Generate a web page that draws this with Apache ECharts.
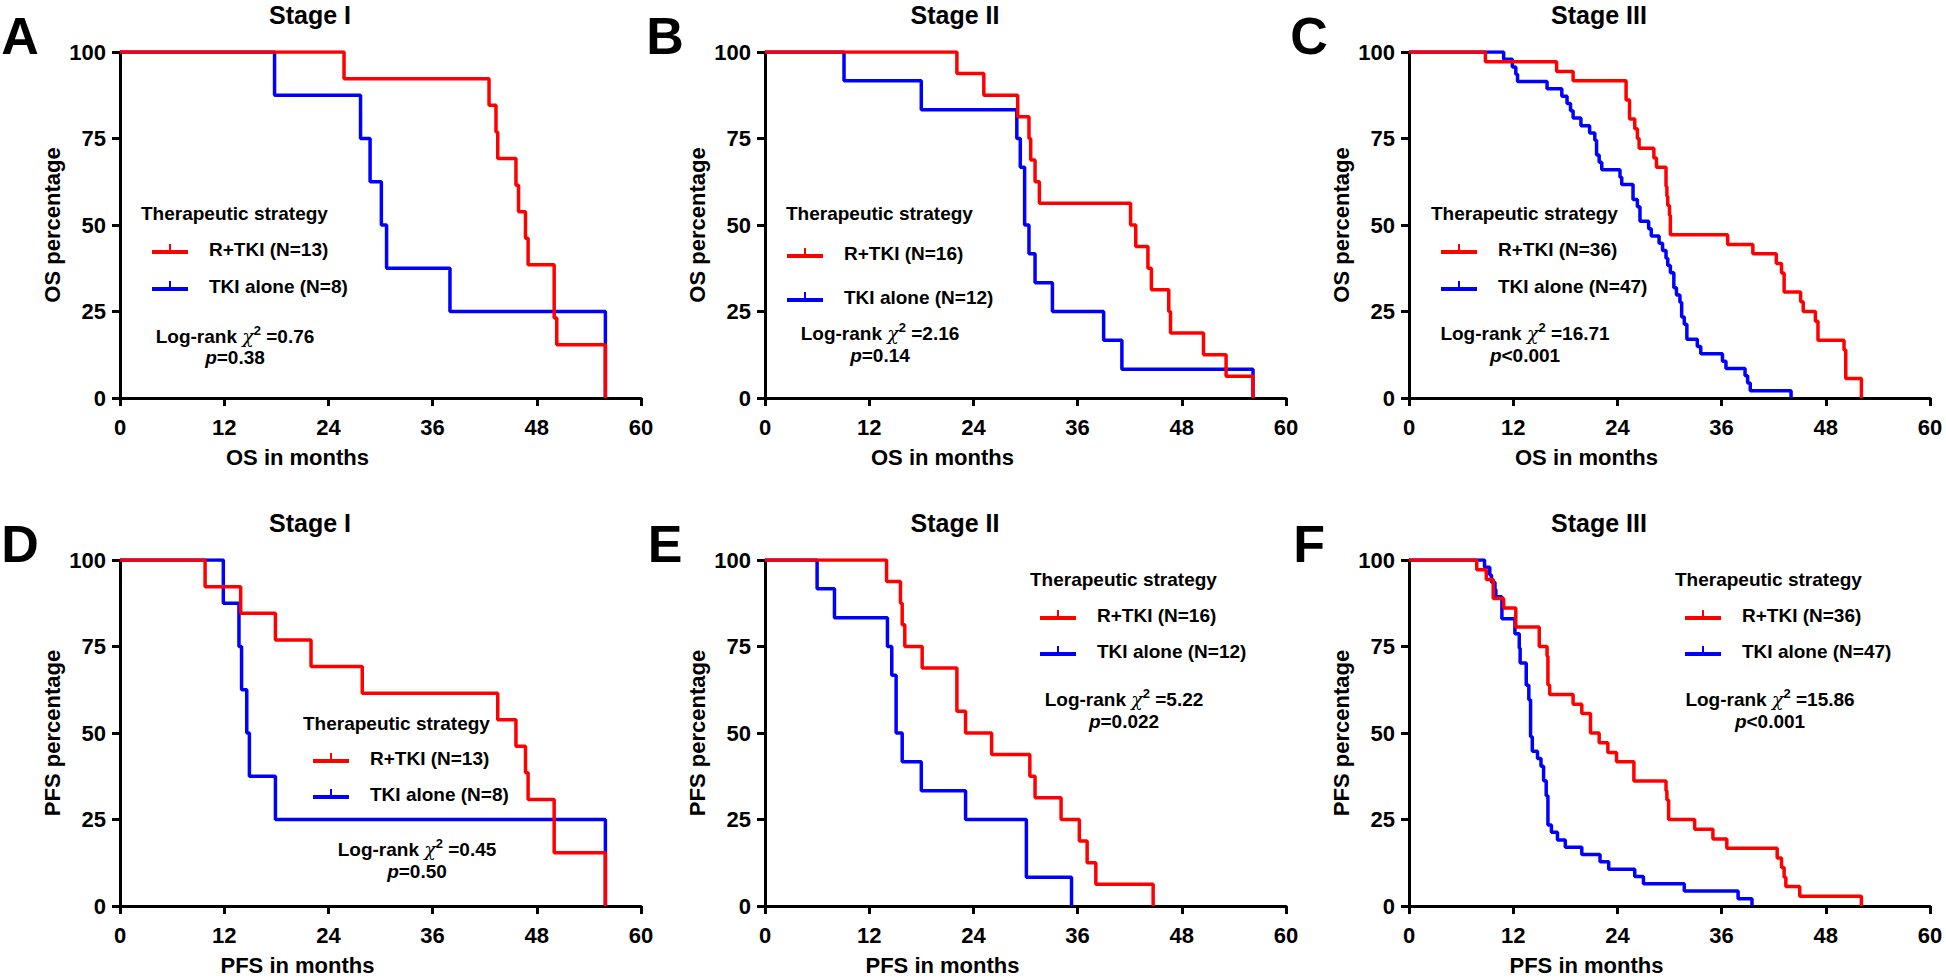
<!DOCTYPE html>
<html>
<head>
<meta charset="utf-8">
<script src="https://cdn.jsdelivr.net/npm/echarts@6/dist/echarts.min.js"></script>
<style>
  html, body { margin: 0; padding: 0; background: #fff; }
  #main { width: 1946px; height: 980px; }
</style>
</head>
<body>
<div id="main"></div>
<script>
// ---- data ----
const panelLetters = ['A', 'B', 'C', 'D', 'E', 'F'];
const stageTitles = ['Stage I', 'Stage II', 'Stage III', 'Stage I', 'Stage II', 'Stage III'];
const xTitles = ['OS in months', 'OS in months', 'OS in months', 'PFS in months', 'PFS in months', 'PFS in months'];
const yTitles = ['OS percentage', 'OS percentage', 'OS percentage', 'PFS percentage', 'PFS percentage', 'PFS percentage'];
const redNames = ['R+TKI (N=13)', 'R+TKI (N=16)', 'R+TKI (N=36)', 'R+TKI (N=13)', 'R+TKI (N=16)', 'R+TKI (N=36)'];
const blueNames = ['TKI alone (N=8)', 'TKI alone (N=12)', 'TKI alone (N=47)', 'TKI alone (N=8)', 'TKI alone (N=12)', 'TKI alone (N=47)'];
const chiValues = ['0.76', '2.16', '16.71', '0.45', '5.22', '15.86'];
const pValues = ['=0.38', '=0.14', '<0.001', '=0.50', '=0.022', '<0.001'];
const monthTicks = [0, 12, 24, 36, 48, 60];
const percentTicks = [0, 25, 50, 75, 100];

// Kaplan-Meier steps: [month, percent surviving after the drop]
const osRedI = [[0,100],[25.8,92.3],[42.5,84.6],[43.3,76.9],[43.5,69.2],[45.6,61.5],[45.9,53.8],[46.7,46.2],[47.0,38.5],[50.0,23.1],[50.3,15.4],[55.9,0]];
const osBlueI = [[0,100],[17.8,87.5],[27.7,75],[28.8,62.5],[30.1,50],[30.7,37.5],[38.0,25],[55.9,0]];

const osRedII = [[0,100],[22.1,93.8],[25.2,87.5],[29.1,81.3],[30.4,75],[30.6,68.8],[31.1,62.5],[31.6,56.3],[42.1,50],[42.7,43.8],[44.1,37.5],[44.5,31.3],[46.5,25],[46.7,18.8],[50.5,12.5],[53.1,6.3],[56.2,0]];
const osBlueII = [[0,100],[9.1,91.7],[18.0,83.3],[29.0,75],[29.4,66.7],[29.9,50],[30.4,41.7],[31.1,33.3],[33.1,25],[39.0,16.7],[41.1,8.3],[56.2,0]];

const osRedIII = [[0,100],[8.8,97.2],[17.0,94.4],[18.9,91.7],[25.0,86.1],[25.4,80.6],[26.0,77.8],[26.3,75.0],[26.5,72.2],[28.2,69.4],[28.5,66.7],[29.6,61.1],[29.7,58.3],[29.8,55.6],[30.0,52.8],[30.1,47.2],[36.7,44.4],[39.6,41.7],[42.3,38.9],[42.9,36.1],[43.2,30.6],[45.1,27.8],[45.4,25.0],[46.8,22.2],[47.1,16.7],[50.1,13.9],[50.3,5.6],[52.1,0]];
const osBlueIII = [[0,100],[10.9,97.9],[11.9,95.7],[12.3,93.6],[12.5,91.5],[15.9,89.4],[17.6,87.2],[18.2,85.1],[18.6,83.0],[18.9,80.9],[19.8,78.7],[20.8,76.6],[21.4,74.5],[21.6,70.2],[21.9,68.1],[22.2,66.0],[24.3,63.8],[24.5,61.7],[25.8,57.4],[26.3,55.3],[26.6,51.1],[27.6,48.9],[27.9,46.8],[28.8,44.7],[29.2,42.6],[29.6,40.4],[29.8,38.3],[30.1,36.2],[30.5,31.9],[30.8,29.8],[31.2,27.7],[31.4,23.4],[31.7,21.3],[32.0,17.0],[33.2,14.9],[33.6,12.8],[36.1,10.6],[36.5,8.5],[38.7,6.4],[39.0,4.3],[39.3,2.1],[44.0,0]];

const pfsRedI = [[0,100],[9.8,92.3],[13.9,84.6],[17.9,76.9],[22.0,69.2],[27.9,61.5],[43.5,53.8],[45.6,46.2],[46.7,38.5],[47.0,30.8],[50.0,15.4],[55.9,0]];
const pfsBlueI = [[0,100],[11.9,87.5],[13.7,75],[14.0,62.5],[14.6,50],[14.9,37.5],[17.9,25],[55.9,0]];

const pfsRedII = [[0,100],[14.0,93.8],[15.6,87.5],[15.8,81.3],[16.1,75],[18.1,68.8],[22.1,56.3],[23.1,50],[26.1,43.8],[30.5,37.5],[31.1,31.3],[34.1,25],[36.2,18.8],[37.1,12.5],[38.1,6.3],[44.7,0]];
const pfsBlueII = [[0,100],[6.0,91.7],[8.0,83.3],[14.1,75],[14.6,66.7],[15.1,50],[15.8,41.7],[18.0,33.3],[23.1,25],[30.1,8.3],[35.3,0]];

const pfsRedIII = [[0,100],[7.8,97.2],[8.9,94.4],[9.7,88.9],[10.9,86.1],[12.3,80.6],[15.0,75.0],[15.9,72.2],[16.0,63.9],[16.2,61.1],[18.9,58.3],[19.9,55.6],[20.9,50.0],[21.9,47.2],[22.9,44.4],[23.9,41.7],[25.9,36.1],[29.6,33.3],[29.7,30.6],[29.9,25.0],[32.9,22.2],[35.0,19.4],[36.6,16.7],[42.4,13.9],[42.9,11.1],[43.2,8.3],[43.4,5.6],[45.0,2.8],[52.1,0]];
const pfsBlueIII = [[0,100],[8.7,97.9],[9.3,95.7],[9.5,93.6],[9.9,91.5],[10.0,89.4],[10.7,83.0],[12.2,78.7],[12.7,74.5],[12.8,70.2],[13.5,63.8],[13.8,59.6],[14.0,48.9],[14.2,44.7],[14.8,42.6],[15.2,40.4],[15.5,36.2],[15.8,31.9],[16.0,23.4],[16.4,21.3],[17.1,19.1],[18.0,17.0],[19.9,14.9],[22.0,12.8],[23.0,10.6],[26.0,8.5],[27.0,6.4],[31.7,4.3],[37.9,2.1],[39.5,0]];

const redCurves = [osRedI, osRedII, osRedIII, pfsRedI, pfsRedII, pfsRedIII];
const blueCurves = [osBlueI, osBlueII, osBlueIII, pfsBlueI, pfsBlueII, pfsBlueIII];

// ---- layout ----
const FONT = '"Liberation Sans", Arial, Helvetica, sans-serif';
const RED = '#ff0000';
const BLUE = '#0000ff';
const colLeft = [120, 765, 1409];
const rowTop = [52, 560];
const plotW = 521;
const plotH = 346;

// legend / annotation placement per panel (absolute px)
const notes = [
  { hx: 141,  hy: 213, lx: 152,  ly: 249, step: 37, cx: 235,  cy: 336, py: 357 },
  { hx: 786,  hy: 213, lx: 787,  ly: 253, step: 44, cx: 880,  cy: 333, py: 355 },
  { hx: 1431, hy: 213, lx: 1441, ly: 249, step: 37, cx: 1525, cy: 333, py: 355 },
  { hx: 303,  hy: 723, lx: 313,  ly: 758, step: 36, cx: 417,  cy: 849, py: 871 },
  { hx: 1030, hy: 579, lx: 1040, ly: 615, step: 36, cx: 1124, cy: 699, py: 721 },
  { hx: 1675, hy: 579, lx: 1685, ly: 615, step: 36, cx: 1770, cy: 699, py: 721 }
];

const legendIcon = 'path://M0,6h36v4h-36z M17,0h2v6h-2z';

const chart = echarts.init(document.getElementById('main'), null, { renderer: 'svg' });

const grids = [], xAxes = [], yAxes = [], series = [], legends = [], graphics = [];

const boldText = (size) => ({ fontFamily: FONT, fontWeight: 'bold', fontSize: size, color: '#000' });

for (let i = 0; i < 6; i++) {
  const left = colLeft[i % 3];
  const top = rowTop[Math.floor(i / 3)];
  const n = notes[i];

  grids.push({ left: left, top: top, width: plotW, height: plotH, containLabel: false, outerBoundsMode: 'none' });

  xAxes.push({
    gridIndex: i, type: 'value',
    min: monthTicks[0], max: monthTicks[monthTicks.length - 1], interval: monthTicks[1] - monthTicks[0],
    axisLine: { show: true, onZero: false, lineStyle: { color: '#000', width: 3 } },
    axisTick: { show: true, inside: false, length: 8, lineStyle: { color: '#000', width: 3 } },
    axisLabel: Object.assign({ margin: 18 }, boldText(22)),
    splitLine: { show: false },
    name: xTitles[i], nameLocation: 'middle', nameGap: 48,
    nameTextStyle: Object.assign({ padding: [0, 166, 0, 0] }, boldText(22))
  });

  yAxes.push({
    gridIndex: i, type: 'value',
    min: percentTicks[0], max: percentTicks[percentTicks.length - 1], interval: percentTicks[1] - percentTicks[0],
    axisLine: { show: true, onZero: false, lineStyle: { color: '#000', width: 3 } },
    axisTick: { show: true, inside: false, length: 8, lineStyle: { color: '#000', width: 3 } },
    axisLabel: Object.assign({ margin: 14 }, boldText(22)),
    splitLine: { show: false },
    name: yTitles[i], nameLocation: 'middle', nameGap: 57,
    nameTextStyle: boldText(22)
  });

  // blue first so red draws on top, as in the figure
  series.push({
    type: 'line', name: blueNames[i], xAxisIndex: i, yAxisIndex: i,
    data: blueCurves[i], step: 'end', showSymbol: false, symbol: 'none',
    color: BLUE, lineStyle: { color: BLUE, width: 3.5 }, clip: true, animation: false, z: 2
  });
  series.push({
    type: 'line', name: redNames[i], xAxisIndex: i, yAxisIndex: i,
    data: redCurves[i], step: 'end', showSymbol: false, symbol: 'none',
    color: RED, lineStyle: { color: RED, width: 3.5 }, clip: true, animation: false, z: 3
  });

  legends.push({
    left: n.lx, top: n.ly - 10, orient: 'vertical', padding: 0,
    itemGap: n.step - 20, itemWidth: 36, itemHeight: 10,
    icon: legendIcon, selectedMode: false,
    itemStyle: { borderWidth: 0 },
    data: [redNames[i], blueNames[i]],
    textStyle: Object.assign({ lineHeight: 20, padding: [0, 0, 0, 16] }, boldText(19))
  });

  // panel letter
  graphics.push({
    type: 'text', x: left - 100, y: top - 16,
    style: { text: panelLetters[i], fontFamily: FONT, fontWeight: 'bold', fontSize: 52, fill: '#000', align: 'center', verticalAlign: 'middle' }
  });
  // stage title
  graphics.push({
    type: 'text', x: left + 190, y: top - 37,
    style: { text: stageTitles[i], fontFamily: FONT, fontWeight: 'bold', fontSize: 25, fill: '#000', align: 'center', verticalAlign: 'middle' }
  });
  // legend header
  graphics.push({
    type: 'text', x: n.hx, y: n.hy,
    style: { text: 'Therapeutic strategy', fontFamily: FONT, fontWeight: 'bold', fontSize: 19, fill: '#000', align: 'left', verticalAlign: 'middle' }
  });
  // log-rank statistic
  graphics.push({
    type: 'text', x: n.cx, y: n.cy,
    style: {
      text: '{a|Log-rank }{c|χ}{s|2}{a| =' + chiValues[i] + '}',
      align: 'center', verticalAlign: 'middle',
      rich: {
        a: { fontFamily: FONT, fontWeight: 'bold', fontSize: 19, fill: '#000', lineHeight: 24 },
        c: { fontFamily: '"DejaVu Serif", serif', fontStyle: 'italic', fontSize: 19, fill: '#000', lineHeight: 24 },
        s: { fontFamily: FONT, fontWeight: 'bold', fontSize: 13, fill: '#000', lineHeight: 14, verticalAlign: 'top' }
      }
    }
  });
  graphics.push({
    type: 'text', x: n.cx, y: n.py,
    style: {
      text: '{i|p}{a|' + pValues[i] + '}',
      align: 'center', verticalAlign: 'middle',
      rich: {
        i: { fontFamily: FONT, fontWeight: 'bold', fontStyle: 'italic', fontSize: 19, fill: '#000' },
        a: { fontFamily: FONT, fontWeight: 'bold', fontSize: 19, fill: '#000' }
      }
    }
  });
}

chart.setOption({
  backgroundColor: '#fff',
  animation: false,
  grid: grids,
  xAxis: xAxes,
  yAxis: yAxes,
  legend: legends,
  series: series,
  graphic: graphics
});
</script>
</body>
</html>
